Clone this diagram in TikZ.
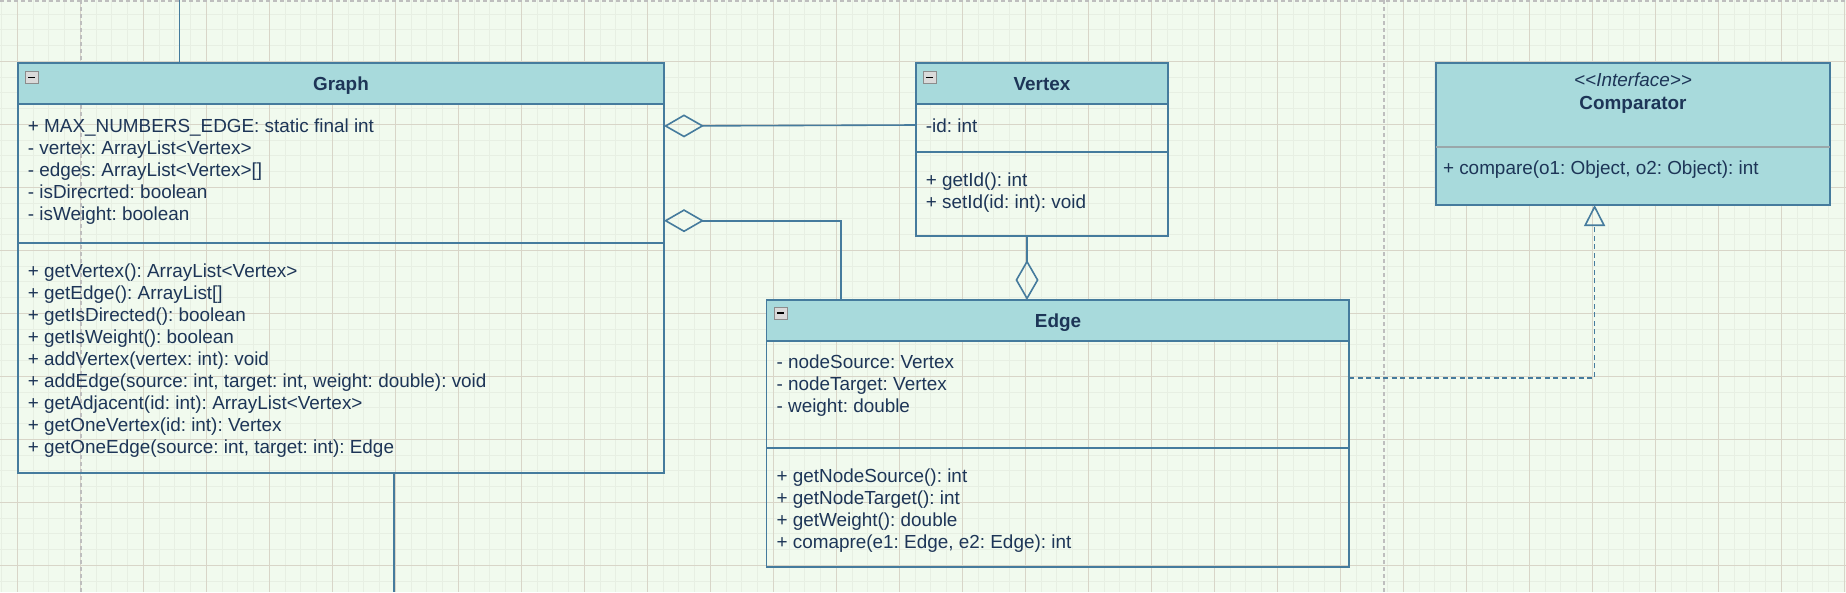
\documentclass[tikz,border=0pt]{standalone}
\usepackage{fontspec}
\setmainfont{Liberation Sans}
\usetikzlibrary{arrows.meta,calc}
\definecolor{bgc}{HTML}{F1FAEE}
\definecolor{hdrfill}{HTML}{A8DADC}
\definecolor{strokec}{HTML}{457B9D}
\definecolor{fontc}{HTML}{1D3557}
\definecolor{gridminor}{HTML}{E7EFE3}
\definecolor{gridmajor}{HTML}{D8D5C8}
\definecolor{pagec}{HTML}{BEBEBE}
\definecolor{sepgrey}{HTML}{9AA7AA}
\definecolor{iconfill}{HTML}{DADADA}
\definecolor{iconedge}{HTML}{8C8C8C}
\newcommand\umlfs{\fontsize{18.9pt}{22pt}\selectfont\frenchspacing}
\tikzset{
  cls/.style={rectangle, draw=strokec, line width=1.6pt, inner sep=0pt, outer sep=0pt, anchor=north west},
  sepline/.style={draw=strokec, line width=1.6pt},
  txt/.style={text=fontc, font=\umlfs, inner sep=0pt, anchor=base west},
  ttl/.style={text=fontc, font=\umlfs\bfseries, inner sep=0pt, anchor=base},
  conn/.style={draw=strokec, line width=1.6pt},
  aggstart/.style={conn, {Diamond[open, length=40pt, width=23pt]}-},
  aggend/.style={conn, -{Diamond[open, length=40pt, width=23pt]}},
  realize/.style={conn, dash pattern=on 5pt off 3.5pt, -{Triangle[open, length=21pt, width=21pt]}},
  icon/.style={rectangle, minimum width=13pt, minimum height=12pt, inner sep=0pt, fill=iconfill, draw=iconedge, line width=0.8pt,
    path picture={\draw[black, line width=1.8pt] ([xshift=-3.6pt]path picture bounding box.center) -- ([xshift=3.6pt]path picture bounding box.center);}},
  pageline/.style={draw=pagec, line width=1.5pt, dash pattern=on 4pt off 3pt},
}
\begin{document}
\begin{tikzpicture}[x=1pt,y=-1pt]
\useasboundingbox (0,0) rectangle (1846,592);
\fill[bgc] (0,0) rectangle (1846,592);
% grid
\foreach \k in {-1,...,117} {\draw[gridminor, line width=1pt] ({17.3+15.75*\k},0) -- ({17.3+15.75*\k},592);}
\foreach \k in {0,...,38} {\draw[gridminor, line width=1pt] (0,{-1.7+15.75*\k}) -- (1846,{-1.7+15.75*\k});}
\foreach \k in {0,...,29} {\draw[gridmajor, line width=1pt] ({17.3+63*\k},0) -- ({17.3+63*\k},592);}
\foreach \k in {0,...,10} {\draw[gridmajor, line width=1pt] (0,{-1.7+63*\k}) -- (1846,{-1.7+63*\k});}
% page breaks
\draw[pageline] (0,1) -- (1846,1);
\draw[pageline] (81,0) -- (81,592);
\draw[pageline] (1384,0) -- (1384,592);

% header fills
\fill[hdrfill] (18,63) rectangle (664,104);
\fill[hdrfill] (916,63) rectangle (1168,104);
\fill[hdrfill] (766.5,300) rectangle (1349,341);

% class boxes
\node[cls, minimum width=646pt, minimum height=410pt] (graph) at (18,63) {};
\node[cls, minimum width=252pt, minimum height=173pt] (vertex) at (916,63) {};
\node[cls, minimum width=582.5pt, minimum height=267pt] (edge) at (766.5,300) {};
\node[cls, fill=hdrfill, minimum width=394pt, minimum height=142pt] (comp) at (1436,63) {};

% separators
\draw[sepline] (18,104) -- (664,104);
\draw[sepline] (18,243) -- (664,243);
\draw[sepline] (916,104) -- (1168,104);
\draw[sepline] (916,152) -- (1168,152);
\draw[sepline] (766.5,341) -- (1349,341);
\draw[sepline] (766.5,448) -- (1349,448);
\draw[sepgrey, line width=1.6pt] (1436,147) -- (1830,147);

% icons
\node[icon] (gicon) at (31.7,77.5) {};
\node[icon] (vicon) at (929.5,77.5) {};
\node[icon] (eicon) at (780.5,313) {};

% titles
\node[ttl] (gtitle) at (341,90.8) {Graph};
\node[ttl] (vtitle) at (1042,90.8) {Vertex};
\node[ttl] (etitle) at (1058,327.5) {Edge};
\node[text=fontc, font=\umlfs\itshape, inner sep=0pt, anchor=base] (cster) at (1633,86.1) {<\kern0pt<\kern0pt Interface\kern0pt>\kern0pt>};
\node[ttl] (ctitle) at (1633,109.1) {Comparator};

% Graph members
\foreach \t [count=\i] in {+ MAX\_NUMBERS\_EDGE: static final int, - vertex: ArrayList\textless Vertex\textgreater, - edges: ArrayList\textless Vertex\textgreater[], - isDirecrted: boolean, - isWeight: boolean}
  {\node[txt] (ga\i) at (27.7,{132.8+22*(\i-1)}) {\t};}
\foreach \t [count=\i] in {+ getVertex(): ArrayList\textless Vertex\textgreater, + getEdge(): ArrayList[], + getIsDirected(): boolean, + getIsWeight(): boolean, + addVertex(vertex: int): void, {+ addEdge(source: int, target: int, weight: double): void}, + getAdjacent(id: int): ArrayList\textless Vertex\textgreater, + getOneVertex(id: int): Vertex, {+ getOneEdge(source: int, target: int): Edge}}
  {\node[txt] (gm\i) at (27.7,{277.5+22*(\i-1)}) {\t};}

% Vertex members
\node[txt] (va1) at (925.7,132.8) {-id: int};
\node[txt] (vm1) at (925.7,186.8) {+ getId(): int};
\node[txt] (vm2) at (925.7,208.6) {+ setId(id: int): void};

% Edge members
\foreach \t [count=\i] in {- nodeSource: Vertex, - nodeTarget: Vertex, - weight: double}
  {\node[txt] (ea\i) at (776.4,{368.5+22*(\i-1)}) {\t};}
\foreach \t [count=\i] in {+ getNodeSource(): int, + getNodeTarget(): int, + getWeight(): double, {+ comapre(e1: Edge, e2: Edge): int}}
  {\node[txt] (em\i) at (776.4,{482.5+22*(\i-1)}) {\t};}

% Comparator member
\node[txt] (cm1) at (1442.8,174.5) {+ compare(o1: Object, o2: Object): int};

% connectors
\coordinate (topend) at (179.5,0);
\coordinate (botend) at (394,592);
\draw[conn] (topend) -- (graph.north -| topend);
\draw[conn] (graph.south -| botend) -- (botend);
\draw[aggstart] ([yshift=-63pt]graph.north east) -- ([yshift=-62pt]vertex.north west);
\draw[aggstart] ([yshift=-157.7pt]graph.north east) -| ([xshift=74.2pt]edge.north west);
\draw[aggend] ([xshift=111pt]vertex.south west) -- ([xshift=260.5pt]edge.north west);
\draw[realize] ([yshift=-77.7pt]edge.north east) -| ([xshift=158.6pt]comp.south west);
\end{tikzpicture}
\end{document}
